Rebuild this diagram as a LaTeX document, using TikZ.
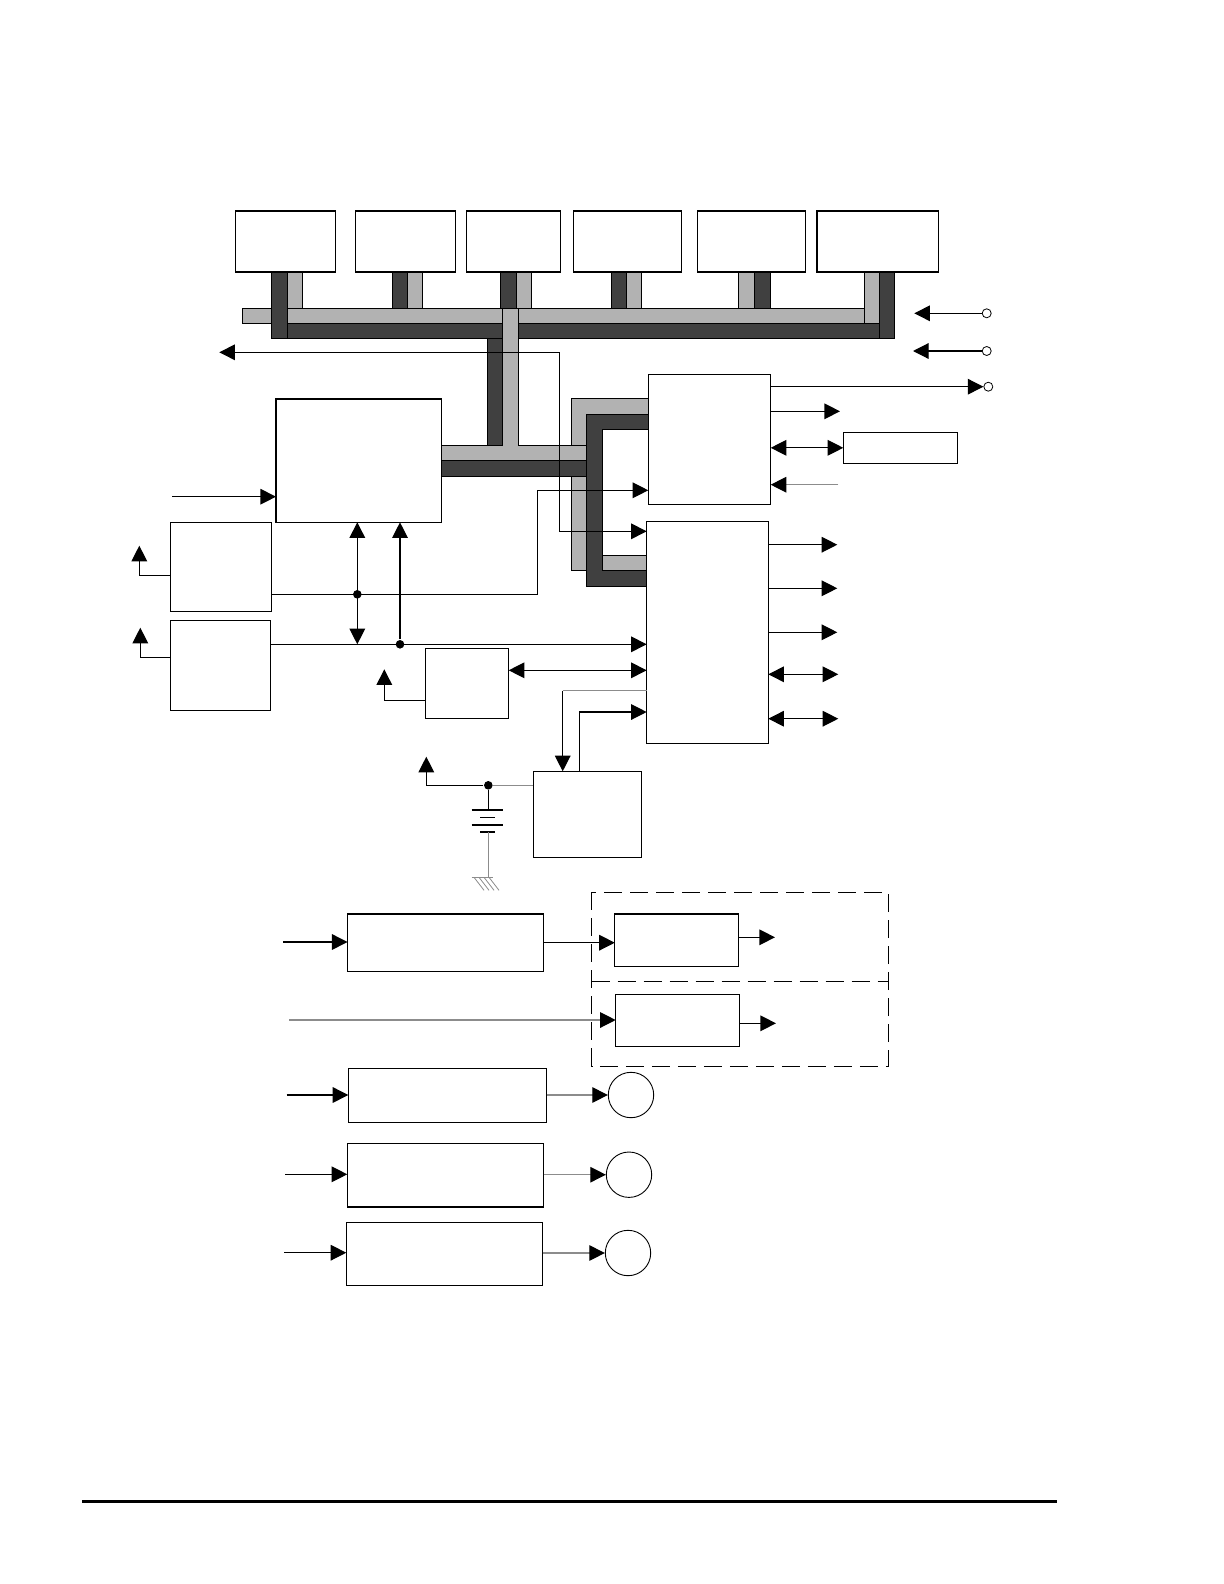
\documentclass[tikz,border=0pt]{standalone}
\usepackage{tikz}
\usetikzlibrary{arrows.meta,positioning,calc}

\begin{document}
\begin{tikzpicture}[x=0.5pt,y=-0.5pt,line width=0.6pt,
  >={Triangle[length=7.8pt,width=7.8pt,color=black]},
  box/.style={draw,inner sep=0pt,outer sep=0pt},
  lamp/.style={draw,circle,inner sep=0pt,minimum size=22.7pt,line width=0.45pt},
  pinc/.style={draw,circle,inner sep=0pt,minimum size=4.5pt,line width=0.4pt},
  dot/.style={fill,circle,inner sep=0pt,minimum size=4.3pt},
  lbus/.style={draw,line width=0.4pt,fill=black!30},
  dbus/.style={draw,line width=0.4pt,fill=black!75},
  faint/.style={draw=black!45},
  grp/.style={draw,line width=0.5pt,dash pattern=on 9pt off 4pt}]
  \useasboundingbox (0,0) rectangle (1224,1584);

  \node[box,minimum width=50pt,minimum height=30.5pt] (mod1) at (285.7,241.5) {};
  \node[box,minimum width=50pt,minimum height=30.5pt] (mod2) at (405.5,241.5) {};
  \node[box,minimum width=47pt,minimum height=30.5pt] (mod3) at (513.7,241.5) {};
  \node[box,minimum width=54pt,minimum height=30.5pt] (mod4) at (627.5,241.5) {};
  \node[box,minimum width=54pt,minimum height=30.5pt] (mod5) at (751.5,241.5) {};
  \node[box,minimum width=60.8pt,minimum height=30.5pt] (mod6) at (877.7,241.5) {};
  \node[box,minimum width=82.75pt,minimum height=61.65pt] (cpu) at (358.75,460.65) {};
  \node[box,minimum width=61.2pt,minimum height=65pt] (asic) at (709.5,439.3) {};
  \node[box,minimum width=60.8pt,minimum height=110.9pt] (gate) at (707.5,632.4) {};
  \node[box,minimum width=57.2pt,minimum height=15.5pt] (lcd) at (900.5,447.8) {};
  \node[box,minimum width=50.7pt,minimum height=44.5pt] (regA) at (221,566.8) {};
  \node[box,minimum width=50.2pt,minimum height=45pt] (regB) at (220.5,665.3) {};
  \node[box,minimum width=41.7pt,minimum height=35pt] (osc) at (467,683.3) {};
  \node[box,minimum width=54.2pt,minimum height=43pt] (rtc) at (587.5,814.3) {};
  \node[box,minimum width=97.85pt,minimum height=28.65pt] (drvH) at (445.4,942.7) {};
  \node[box,minimum width=61.9pt,minimum height=26.35pt] (drvI) at (676.7,940.3) {};
  \node[box,minimum width=62pt,minimum height=26pt] (drvJ) at (677.7,1020.3) {};
  \node[box,minimum width=99.2pt,minimum height=27pt] (ledK) at (447.5,1095.3) {};
  \node[box,minimum width=98.2pt,minimum height=31.85pt] (ledL) at (445.5,1175.2) {};
  \node[box,minimum width=98.2pt,minimum height=31.5pt] (ledM) at (444.5,1253.8) {};
  \node[lamp] (lampK) at (631,1095) {};
  \node[lamp] (lampL) at (629,1174.7) {};
  \node[lamp] (lampM) at (628,1253) {};

  \draw[dbus] (271,323.3) rectangle (894.5,338.3);
  \draw[dbus] (392.6,272) rectangle (407.3,323.3) (500,272) rectangle (516,323.3)
    (611.6,272) rectangle (626.3,323.3) (754,272) rectangle (770.5,323.3);
  \draw[lbus] (242.5,308.3) rectangle (864,323.3);
  \draw[lbus] (287,272) rectangle (302.6,308.3) (407.3,272) rectangle (422.5,308.3)
    (516,272) rectangle (531,308.3) (626.3,272) rectangle (641.5,308.3)
    (738.8,272) rectangle (754,308.3) (864,272) rectangle (879,323.3);
  \draw[dbus] (271,272) rectangle (287,338.3) (879,272) rectangle (894.5,338.3);
  \draw[lbus] (648.3,398.3) -- (571.7,398.3) -- (571.7,570) -- (646.7,570) -- (646.7,555.3)
    -- (586.3,555.3) -- (586.3,414) -- (648.3,414) -- cycle;
  \draw[dbus] (487.3,338.3) -- (502.3,338.3) -- (502.3,460.7) -- (586.3,460.7) -- (586.3,476)
    -- (441.7,476) -- (441.7,460.7) -- (487.3,460.7) -- cycle;
  \draw[lbus] (441.7,445.7) -- (502.3,445.7) -- (502.3,308.3) -- (518.3,308.3) -- (518.3,445.7)
    -- (586.3,445.7) -- (586.3,460.7) -- (441.7,460.7) -- cycle;
  \draw[dbus] (648.3,414) -- (586.3,414) -- (586.3,586) -- (646.7,586) -- (646.7,570)
    -- (602.3,570) -- (602.3,429.3) -- (648.3,429.3) -- cycle;

  \coordinate (lft) at (219.3,352.3);
  \coordinate (jB) at (559.3,531.3);
  \coordinate (jA) at (537.3,490.3);
  \coordinate (inC) at (172.3,496.7);
  \coordinate (upC) at (139.3,545.7);
  \coordinate (kC) at (139.3,575.3);
  \coordinate (upD) at (140.3,627.7);
  \coordinate (kD) at (140.3,657.3);
  \coordinate (upE) at (384.3,669.3);
  \coordinate (kE) at (384.3,700.3);
  \coordinate (eb) at (580,670.3);
  \coordinate (kF1) at (562.7,690.7);
  \coordinate (kF2) at (579.3,712);
  \coordinate (upF) at (426.3,756.7);
  \node[dot] (dC) at (357.3,594.3) {};
  \node[dot] (dD) at (400,644.3) {};
  \node[dot] (dF) at (488.3,785.3) {};

  \draw[<->] (lft) -| (jB) -- (jB -| gate.west);
  \draw[->] (dC -| regA.east) -| (jA) -- (jA -| asic.west);
  \draw[<->] (dC |- cpu.south) -- (dC |- dD);
  \draw[->] (dD) -- (dD |- cpu.south);
  \draw[->] (dD -| regB.east) -- (dD -| gate.west);
  \draw[->] (inC) -- (inC -| cpu.west);
  \draw[->] (kC -| regA.west) -- (kC) -- (upC);
  \draw[->] (kD -| regB.west) -- (kD) -- (upD);
  \draw[->] (kE -| osc.west) -- (kE) -- (upE);
  \draw[<->] (eb -| osc.east) -- (eb -| gate.west);
  \draw[faint] (kF1 -| gate.west) -- (kF1);
  \draw[->] (kF1) -- (kF1 |- rtc.north);
  \draw[->] (kF2 |- rtc.north) -- (kF2) -- (kF2 -| gate.west);
  \draw[faint] (dF) -- (dF -| rtc.west);
  \draw[->] (dF) -| (upF);

  \draw (dF) -- (488.3,810);
  \draw (471.7,810) -- (502.7,810) (471.7,825) -- (502.7,825);
  \draw (480,817.3) -- (495,817.3) (480,832) -- (495,832);
  \draw[faint] (488.3,832) -- (488.3,877.3) (471.7,877.3) -- (493.3,877.3);
  \foreach \gx in {474,479,484,489} \draw[faint,line width=0.4pt] (\gx,877.3) -- ++(10,13);

  \node[pinc] (p1) at (986.7,313.3) {};
  \node[pinc] (p2) at (986.7,351) {};
  \node[pinc] (p3) at (988.3,386.7) {};
  \coordinate (t1) at (914.3,313.3);
  \coordinate (t2) at (913,351);
  \coordinate (oA) at (840,411.3);
  \coordinate (iA) at (838.3,484.7);
  \draw[->] (p1) -- (t1);
  \draw[->] (p2) -- (t2);
  \draw[->] (p3 -| asic.east) -- (p3);
  \draw[->] (oA -| asic.east) -- (oA);
  \draw[<->] (lcd.west -| asic.east) -- (lcd.west);
  \draw[faint,->] (iA) -- (iA -| asic.east);

  \coordinate (oB1) at (837.3,544.7);
  \coordinate (oB2) at (837.3,588.3);
  \coordinate (oB3) at (837.3,632.3);
  \coordinate (oB4) at (838.3,674.3);
  \coordinate (oB5) at (838.3,718.7);
  \draw[->] (oB1 -| gate.east) -- (oB1);
  \draw[->] (oB2 -| gate.east) -- (oB2);
  \draw[->] (oB3 -| gate.east) -- (oB3);
  \draw[<->] (oB4 -| gate.east) -- (oB4);
  \draw[<->] (oB5 -| gate.east) -- (oB5);

  \coordinate (inH) at (283,942);
  \coordinate (oI) at (775,937.3);
  \coordinate (inJ) at (289.4,1020);
  \coordinate (oJ) at (776,1023.3);
  \draw[->] (inH) -- (inH -| drvH.west);
  \draw[->] (drvH.east) -- (drvH.east -| drvI.west);
  \draw[->] (oI -| drvI.east) -- (oI);
  \draw[faint,->] (inJ) -- (inJ -| drvJ.west);
  \draw[->] (oJ -| drvJ.east) -- (oJ);
  \draw[grp] (591.5,892.3) rectangle (888,1066);
  \draw[grp] (591.5,981) -- (888,981);

  \coordinate (inK) at (286.7,1095);
  \coordinate (inL) at (285,1174.3);
  \coordinate (inM) at (284,1252.7);
  \draw[->] (inK) -- (inK -| ledK.west);
  \draw[->] (inL) -- (inL -| ledL.west);
  \draw[->] (inM) -- (inM -| ledM.west);
  \draw[faint,->] (ledK.east |- lampK) -- (lampK);
  \draw[faint,->] (ledL.east |- lampL) -- (lampL);
  \draw[faint,->] (ledM.east |- lampM) -- (lampM);

  \draw[line width=1.5pt] (82,1501.3) -- (1057.4,1501.3);
\end{tikzpicture}
\end{document}
